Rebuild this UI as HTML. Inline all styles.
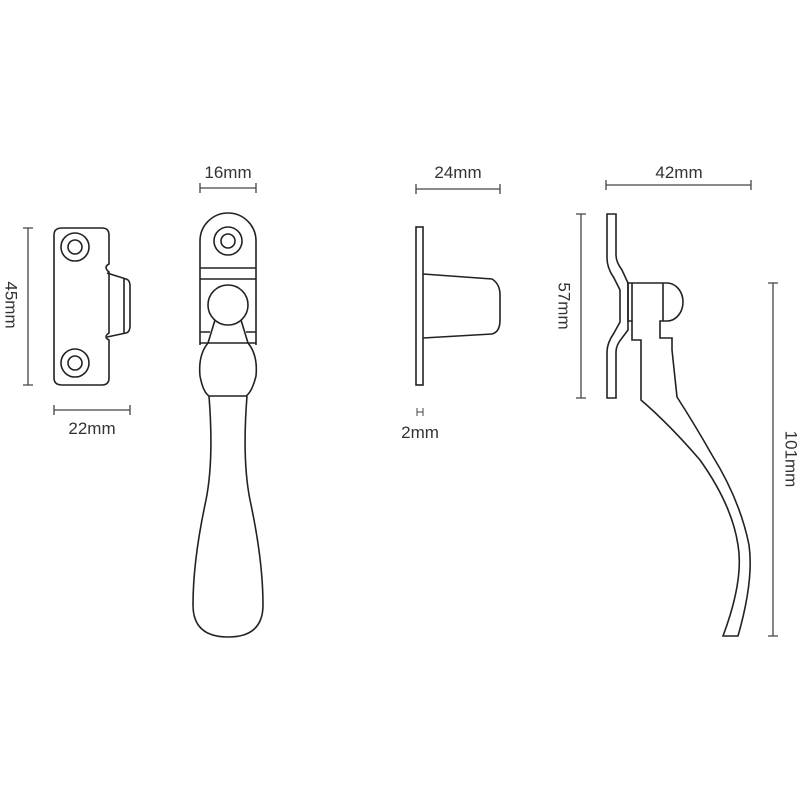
<!DOCTYPE html>
<html><head><style>
body{margin:0;background:#fff;width:800px;height:800px;overflow:hidden}
svg{display:block}
text{font-family:"Liberation Sans",sans-serif;font-size:17px;fill:#333;stroke:none}
</style></head><body>
<svg width="800" height="800" viewBox="0 0 800 800" fill="none" stroke="#222" stroke-width="1.6">
<g stroke="#444" stroke-width="1.3">
<path d="M28 228V385M23 228H33M23 385H33"/>
<path d="M54 410H130M54 405V415M130 405V415"/>
<path d="M200 188H256M200 183V193M256 183V193"/>
<path d="M416 189H500M416 184V194M500 184V194"/>
<path d="M606 185H751M606 180V190M751 180V190"/>
<path d="M581 214V398M576 214H586M576 398H586"/>
<path d="M773 283V636M768 283H778M768 636H778"/>
<path d="M417 408V416M423 408V416M417 412H423" stroke-width="1"/>
</g>
<text x="10" y="305" text-anchor="middle" transform="rotate(90 10 305)" dominant-baseline="middle">45mm</text>
<text x="92" y="434" text-anchor="middle">22mm</text>
<text x="228" y="178" text-anchor="middle">16mm</text>
<text x="458" y="178" text-anchor="middle">24mm</text>
<text x="420" y="438" text-anchor="middle">2mm</text>
<text x="679" y="178" text-anchor="middle">42mm</text>
<text x="563" y="306" text-anchor="middle" transform="rotate(90 563 306)" dominant-baseline="middle">57mm</text>
<text x="790" y="459" text-anchor="middle" transform="rotate(90 790 459)" dominant-baseline="middle">101mm</text>

<path d="M62 228H102Q109 228 109 235V264Q103 267 109 272V333Q103 337 109 340V378Q109 385 102 385H62Q54 385 54 378V235Q54 228 62 228Z"/>
<circle cx="75" cy="247" r="14"/><circle cx="75" cy="247" r="7"/>
<circle cx="75" cy="363" r="14"/><circle cx="75" cy="363" r="7"/>
<path d="M107 273L126 279Q130 280 130 286V326Q130 332 126 333L107 337"/>
<path d="M124 279V333"/>

<path d="M200 241A28 28 0 0 1 256 241V345"/>
<path d="M200 241V345"/>
<circle cx="228" cy="241" r="14"/><circle cx="228" cy="241" r="7"/>
<path d="M200 268H256M200 279H256M200 332H210M246 332H256M200 343H256"/>
<circle cx="228" cy="305" r="20"/>
<path d="M215 320L208 343Q198 355 200 376Q203 392 209 396H246Q252 392 256 376Q258 355 248 343L241 320"/>
<path d="M209 396Q214 460 206 500Q193 560 193 605Q193 637 228 637Q263 637 263 605Q263 560 250 500Q242 460 247 396"/>

<rect x="416" y="227" width="7" height="158"/>
<path d="M423 274L492 279Q500 284 500 295V320Q500 332 492 334L423 338"/>

<path d="M607 214H616V255Q616 262 622 270L628 283V330L622 338Q616 345 616 352V398H607V352Q607 343 614 333L620 322V290L614 278Q607 268 607 258Z"/>
<path d="M628 283H667A16 19 0 0 1 667 321H660V338H672V350L677 397Q695 425 712 455Q740 500 749 545Q754 580 738 636H723Q744 580 738 545Q732 505 700 460Q670 425 641 400V340H632V321H628Z"/>
<path d="M632 283V321M663 283V321"/>
</svg>
</body></html>
